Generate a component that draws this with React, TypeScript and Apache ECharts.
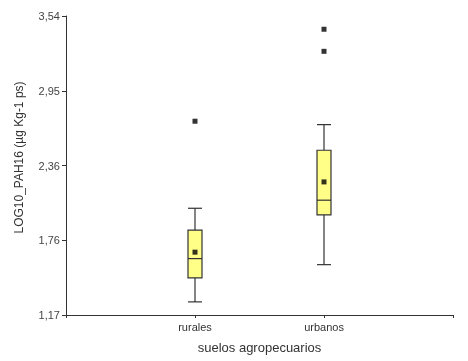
import React, { useEffect, useRef } from "react";
import * as echarts from "echarts";

const categories = ["rurales", "urbanos"];
// [min whisker, Q1, median, Q3, max whisker]
const boxValues = [
  [1.274, 1.464, 1.617, 1.842, 2.016],
  [1.569, 1.963, 2.08, 2.476, 2.679],
];
const meanValues = [1.668, 2.225];
const outliers = [
  [1, 2.706],
  [2, 3.435],
  [2, 3.26],
];
const yTickLabels = ["1,17", "1,76", "2,36", "2,95", "3,54"];
const yMin = 1.17;
const yMax = 3.54;

export default function App() {
  const ref = useRef<HTMLDivElement>(null);
  useEffect(() => {
    const chart = echarts.init(ref.current!, null, { renderer: "svg" });
    const yInterval = (yMax - yMin) / (yTickLabels.length - 1);
    const font = "Liberation Sans, Arial, sans-serif";
    chart.setOption({
      animation: false,
      grid: { left: 66, right: 15, top: 16, bottom: 46 },
      xAxis: {
        type: "value",
        min: 0,
        max: categories.length + 1,
        interval: 1,
        name: "suelos agropecuarios",
        nameLocation: "middle",
        nameGap: 26,
        nameTextStyle: { fontFamily: font, fontSize: 13, color: "#333" },
        axisLine: { show: true, lineStyle: { color: "#333", width: 1 } },
        axisTick: { show: true, length: 3, lineStyle: { color: "#333" } },
        axisLabel: {
          fontFamily: font,
          fontSize: 11,
          color: "#333",
          margin: 6,
          formatter: (v: number) => categories[Math.round(v) - 1] ?? "",
        },
        splitLine: { show: false },
      },
      yAxis: {
        type: "value",
        min: yMin,
        max: yMax,
        interval: yInterval,
        name: "LOG10_PAH16 (µg Kg-1 ps)",
        nameLocation: "middle",
        nameGap: 41,
        nameTextStyle: {
          fontFamily: font,
          fontSize: 12,
          color: "#333",
          padding: [0, 0, 0, 16],
        },
        axisLine: { show: true, lineStyle: { color: "#333", width: 1 } },
        axisTick: { show: true, length: 4, lineStyle: { color: "#333" } },
        axisLabel: {
          fontFamily: font,
          fontSize: 11,
          color: "#444",
          margin: 6,
          formatter: (v: number) =>
            yTickLabels[Math.round((v - yMin) / yInterval)] ?? "",
        },
        splitLine: { show: false },
      },
      series: [
        {
          type: "custom",
          data: boxValues.map((b, i) => [i + 1, ...b]),
          renderItem: (params: any, api: any) => {
            const x = api.value(0);
            const pMin = api.coord([x, api.value(1)]);
            const pQ1 = api.coord([x, api.value(2)]);
            const pMed = api.coord([x, api.value(3)]);
            const pQ3 = api.coord([x, api.value(4)]);
            const pMax = api.coord([x, api.value(5)]);
            const hw = 7;
            const cx = pMin[0];
            const stroke = { stroke: "#333", lineWidth: 1.2 };
            return {
              type: "group",
              children: [
                { type: "line", shape: { x1: cx, y1: pMin[1], x2: cx, y2: pQ1[1] }, style: stroke },
                { type: "line", shape: { x1: cx, y1: pQ3[1], x2: cx, y2: pMax[1] }, style: stroke },
                { type: "line", shape: { x1: cx - hw, y1: pMin[1], x2: cx + hw, y2: pMin[1] }, style: stroke },
                { type: "line", shape: { x1: cx - hw, y1: pMax[1], x2: cx + hw, y2: pMax[1] }, style: stroke },
                {
                  type: "rect",
                  shape: { x: cx - hw, y: pQ3[1], width: 2 * hw, height: pQ1[1] - pQ3[1] },
                  style: { fill: "#FFFF88", stroke: "#333", lineWidth: 1.2 },
                },
                { type: "line", shape: { x1: cx - hw, y1: pMed[1], x2: cx + hw, y2: pMed[1] }, style: stroke },
              ],
            };
          },
          z: 2,
        },
        {
          type: "scatter",
          data: meanValues.map((m, i) => [i + 1, m]),
          symbol: "rect",
          symbolSize: 5,
          itemStyle: { color: "#000" },
          z: 3,
        },
        {
          type: "scatter",
          data: outliers,
          symbol: "rect",
          symbolSize: 5,
          itemStyle: { color: "#000" },
          z: 3,
        },
      ],
    });
    return () => chart.dispose();
  }, []);
  return (
    <div
      ref={ref}
      style={{ position: "fixed", left: 0, top: 0, width: 468, height: 361 }}
    />
  );
}
